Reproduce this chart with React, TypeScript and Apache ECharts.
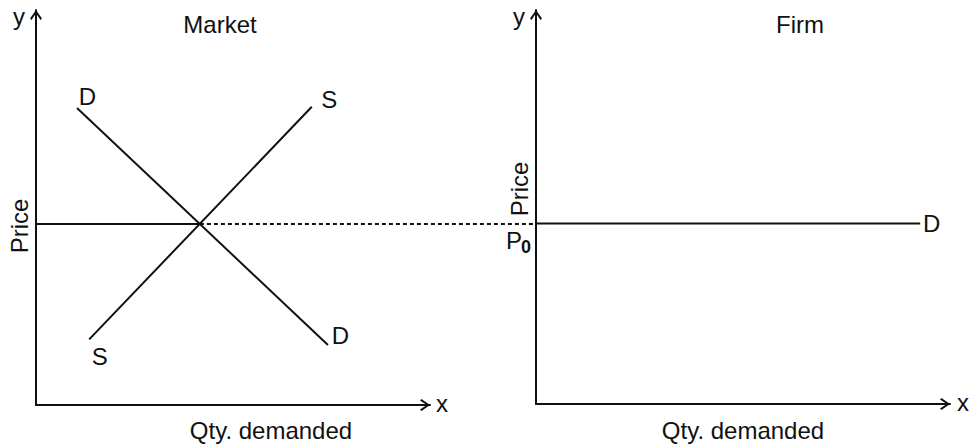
import React, { useEffect, useRef } from "react";
import * as echarts from "echarts";

// ---- data (axis units 0..10 in each panel) ----
const marketDemand: [number, number][] = [[1.04, 7.52], [7.41, 1.52]];
const marketSupply: [number, number][] = [[1.35, 1.66], [7.0, 7.55]];
const equilibriumQty = 4.16;
const priceP0 = 4.58;
const bridgeEndQty = 12.69; // dashed price line continues to the firm's y-axis
const firmDemandEndQty = 9.28;

const demandLabels = ["D", "D"];
const supplyLabels = ["S", "S"];
const panelTitles = ["Market", "Firm"];
const xAxisTitle = "Qty. demanded";
const yAxisTitle = "Price";

const FONT = '"Liberation Sans", Arial, Helvetica, sans-serif';
const INK = "#111111";
const ARROW = "path://M6,0 L12,8.5 L10.5,10 L6,3.2 L1.5,10 L0,8.5 Z";

function axis(gridIndex: number) {
  return {
    type: "value",
    gridIndex,
    min: 0,
    max: 10,
    axisLine: {
      show: true,
      onZero: false,
      symbol: ["none", ARROW],
      symbolSize: [12, 10],
      symbolOffset: [0, -5],
      lineStyle: { color: INK, width: 2 },
    },
    axisTick: { show: false },
    axisLabel: { show: false },
    splitLine: { show: false },
  };
}

function hiddenAxis(gridIndex: number, max: number) {
  return {
    type: "value",
    gridIndex,
    min: 0,
    max,
    show: false,
    axisLine: { show: false },
    axisTick: { show: false },
    axisLabel: { show: false },
    splitLine: { show: false },
  };
}

function lbl(text: string, pos: [number, number]) {
  return {
    show: true,
    formatter: text,
    position: pos,
    align: "center",
    verticalAlign: "middle",
    fontSize: 24,
    fontFamily: FONT,
    color: INK,
  };
}

function txt(text: string, x: number, y: number, extra: any = {}) {
  return {
    type: "text",
    x,
    y,
    silent: true,
    style: {
      text,
      fontSize: 24,
      fontFamily: FONT,
      fill: INK,
      align: "center",
      verticalAlign: "middle",
      ...(extra.style || {}),
    },
    ...(extra.rotation !== undefined ? { rotation: extra.rotation } : {}),
  };
}

const lineBase = {
  type: "line",
  silent: true,
  symbol: "circle",
  symbolSize: 1,
  showSymbol: true,
  itemStyle: { color: "transparent" },
  lineStyle: { color: INK, width: 2 },
  emphasis: { disabled: true },
  animation: false,
};

export default function App() {
  const ref = useRef<HTMLDivElement>(null);
  useEffect(() => {
    if (!ref.current) return;
    const chart = echarts.init(ref.current, undefined, { renderer: "svg" });
    chart.setOption({
      animation: false,
      backgroundColor: "#ffffff",
      grid: [
        { left: 36, top: 10, width: 394, height: 395 },
        { left: 536, top: 10, width: 414, height: 394 },
        // bridge grid: same scale as the market panel, reaching the firm's y-axis
        { left: 36, top: 10, width: 500, height: 395 },
      ],
      xAxis: [axis(0), axis(1), hiddenAxis(2, bridgeEndQty)],
      yAxis: [axis(0), axis(1), hiddenAxis(2, 10)],
      series: [
        {
          ...lineBase,
          xAxisIndex: 0,
          yAxisIndex: 0,
          data: [
            { value: marketDemand[0], label: lbl(demandLabels[0], [11, -11]) },
            { value: marketDemand[1], label: lbl(demandLabels[1], [13, -9]) },
          ],
        },
        {
          ...lineBase,
          xAxisIndex: 0,
          yAxisIndex: 0,
          data: [
            { value: marketSupply[0], label: lbl(supplyLabels[0], [11, 18]) },
            { value: marketSupply[1], label: lbl(supplyLabels[1], [18, -7]) },
          ],
        },
        {
          ...lineBase,
          xAxisIndex: 0,
          yAxisIndex: 0,
          data: [[0, priceP0], [equilibriumQty, priceP0]],
        },
        {
          ...lineBase,
          xAxisIndex: 2,
          yAxisIndex: 2,
          lineStyle: { color: INK, width: 2, type: [4, 3] },
          data: [[equilibriumQty, priceP0], [bridgeEndQty, priceP0]],
        },
        {
          ...lineBase,
          xAxisIndex: 1,
          yAxisIndex: 1,
          data: [
            [0, priceP0],
            { value: [firmDemandEndQty, priceP0], label: lbl(demandLabels[0], [12, 0]) },
          ],
        },
      ],
      graphic: [
        txt(panelTitles[0], 220, 24),
        txt(panelTitles[1], 800, 24),
        txt("y", 19, 16),
        txt("y", 519, 16),
        txt("x", 442, 403),
        txt("x", 963, 402),
        txt(xAxisTitle, 271, 430),
        txt(xAxisTitle, 743, 430),
        txt(yAxisTitle, 19, 226, { rotation: Math.PI / 2 }),
        txt(yAxisTitle, 519, 189, { rotation: Math.PI / 2 }),
        txt("P", 514, 240),
        txt("0", 526, 247, { style: { fontSize: 18, fontWeight: "bold" } }),
      ],
    });
    return () => chart.dispose();
  }, []);
  return (
    <div
      ref={ref}
      style={{ position: "fixed", left: 0, top: 0, width: 969, height: 446 }}
    />
  );
}
